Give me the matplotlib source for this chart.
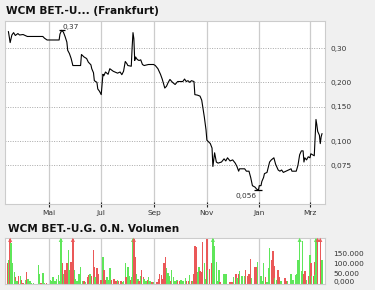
import numpy as np
import matplotlib
matplotlib.use("Agg")
from matplotlib import pyplot as plt

# days counted from 1 May
month_pos = [0, 61, 123, 184, 245, 304]
month_labels = ["Mai", "Jul", "Sep", "Nov", "Jan", "Mrz"]

price_days = [-47, -45, -43, -41, -39, -36, -34, -30, -25, -7, -5, -3, -2, 12, 13, 15, 17, 19, 21, 22,
              24, 26, 28, 37, 38, 41, 44, 46, 49, 50, 52, 53, 56, 57, 59, 61, 62, 63, 64, 66,
              69, 71, 75, 80, 83, 85, 87, 89, 91, 92, 96, 97, 98, 99, 100, 101, 103, 105, 107, 109,
              111, 116, 122, 124, 127, 130, 132, 135, 137, 139, 141, 144, 147, 150, 156, 158, 160, 162, 164, 166,
              169, 170, 173, 176, 178, 181, 183, 184, 188, 190, 191, 193, 195, 197, 201, 204, 206, 208, 211, 214,
              217, 219, 221, 222, 228, 230, 233, 235, 237, 240, 242, 244, 245, 247, 248, 250, 251, 254, 255, 257,
              259, 262, 264, 267, 269, 271, 273, 276, 279, 282, 283, 288, 290, 292, 294, 296, 297, 298, 300, 302,
              304, 305, 307, 309, 310, 311, 312, 313, 315, 316, 317, 318]
price = [0.364, 0.320, 0.350, 0.360, 0.348, 0.356, 0.350, 0.352, 0.344, 0.344, 0.337, 0.332, 0.330, 0.330, 0.354, 0.370, 0.362, 0.343, 0.322, 0.292,
         0.281, 0.265, 0.244, 0.244, 0.278, 0.270, 0.265, 0.254, 0.246, 0.235, 0.224, 0.204, 0.200, 0.185, 0.180, 0.173, 0.195, 0.220, 0.216, 0.226,
         0.220, 0.235, 0.228, 0.223, 0.226, 0.219, 0.228, 0.256, 0.249, 0.244, 0.242, 0.303, 0.360, 0.335, 0.259, 0.270, 0.262, 0.259, 0.261, 0.247,
         0.244, 0.247, 0.247, 0.244, 0.235, 0.220, 0.208, 0.187, 0.191, 0.200, 0.207, 0.200, 0.195, 0.202, 0.202, 0.208, 0.202, 0.204, 0.200, 0.204,
         0.202, 0.173, 0.172, 0.170, 0.162, 0.133, 0.114, 0.101, 0.097, 0.092, 0.074, 0.087, 0.078, 0.077, 0.078, 0.081, 0.079, 0.082, 0.079, 0.080,
         0.077, 0.074, 0.070, 0.072, 0.072, 0.070, 0.070, 0.065, 0.059, 0.058, 0.0566, 0.056, 0.059, 0.059, 0.062, 0.065, 0.068, 0.069, 0.072, 0.078,
         0.080, 0.082, 0.076, 0.071, 0.070, 0.071, 0.069, 0.070, 0.071, 0.072, 0.070, 0.070, 0.075, 0.085, 0.089, 0.089, 0.078, 0.082, 0.080, 0.083,
         0.082, 0.086, 0.085, 0.084, 0.103, 0.129, 0.121, 0.112, 0.107, 0.097, 0.105, 0.109]

price_ticks = [0.075, 0.1, 0.15, 0.2, 0.3]
price_tick_labels = ["0,075", "0,100", "0,150", "0,200", "0,30"]

# volume in thousands, direction 1 = up day, -1 = down day
vol_days = [-48, -47, -45, -44, -42, -40, -39, -38, -36, -35, -33, -32, -30, -27, -26, -24, -22, -20, -18, -12,
            -11, -9, -7, -5, -3, 2, 3, 5, 7, 9, 11, 13, 14, 16, 17, 19, 21, 23, 24, 25,
            26, 28, 30, 31, 33, 35, 37, 39, 41, 43, 45, 47, 48, 50, 52, 53, 54, 56, 58, 60,
            61, 63, 64, 66, 68, 69, 71, 73, 75, 76, 78, 80, 81, 84, 86, 87, 89, 90, 92, 94,
            95, 97, 98, 99, 101, 102, 104, 105, 107, 108, 110, 111, 113, 115, 116, 118, 120, 122, 126, 128,
            129, 131, 132, 134, 135, 136, 137, 139, 140, 142, 143, 145, 147, 149, 150, 152, 154, 155, 157, 159,
            160, 163, 164, 166, 167, 169, 170, 172, 173, 175, 176, 178, 179, 181, 183, 184, 185, 187, 190, 191,
            193, 195, 196, 198, 199, 200, 204, 206, 207, 211, 213, 215, 218, 219, 221, 222, 225, 228, 229, 231,
            233, 235, 236, 240, 242, 243, 247, 249, 250, 252, 254, 256, 257, 259, 260, 261, 262, 263, 265, 267,
            268, 270, 271, 275, 276, 278, 282, 284, 285, 287, 289, 290, 292, 294, 295, 297, 298, 300, 302, 304,
            305, 306, 308, 309, 310, 311, 313, 316, 318]
vol = [102, 116, 300, 201, 102, 59, 33, 16, 16, 37, 37, 20, 3, 20, 59, 25, 16, 4, 4, 93,
       50, 4, 54, 3, 3, 21, 16, 33, 16, 25, 42, 16, 300, 102, 50, 68, 102, 167, 68, 50,
       110, 300, 68, 25, 16, 50, 85, 16, 16, 8, 33, 42, 50, 37, 167, 81, 33, 76, 50, 20,
       20, 133, 68, 20, 33, 20, 76, 20, 20, 25, 16, 20, 16, 13, 11, 16, 102, 33, 85, 37,
       20, 33, 300, 300, 133, 50, 25, 16, 37, 68, 33, 25, 16, 20, 33, 13, 11, 8, 11, 25,
       50, 42, 25, 102, 25, 133, 76, 54, 37, 16, 68, 33, 16, 20, 13, 16, 20, 16, 16, 30,
       13, 16, 42, 16, 13, 50, 184, 179, 59, 85, 64, 59, 205, 102, 25, 222, 68, 71, 105, 300,
       187, 110, 16, 68, 8, 8, 50, 50, 20, 11, 11, 33, 50, 30, 50, 64, 37, 37, 68, 37,
       50, 124, 30, 85, 81, 110, 37, 13, 105, 33, 8, 76, 174, 25, 119, 162, 88, 30, 20, 68,
       33, 16, 16, 30, 16, 16, 50, 20, 20, 42, 50, 116, 300, 62, 208, 50, 64, 20, 37, 140,
       105, 37, 37, 107, 42, 300, 300, 300, 116]
vol_dir = [-1, 1, -1, 1, 1, 1, -1, 1, 1, -1, 1, -1, -1, 1, -1, 1, 1, 1, 1, 1,
           1, -1, 1, 1, -1, 1, 1, 1, 1, 1, 1, 1, 1, -1, 1, -1, -1, 1, 1, -1,
           -1, -1, 1, 1, 1, 1, 1, 1, -1, 1, -1, -1, 1, -1, -1, -1, 1, -1, -1, -1,
           -1, 1, -1, -1, 1, 1, 1, -1, 1, -1, -1, 1, -1, -1, 1, 1, 1, -1, 1, 1,
           -1, 1, 1, -1, -1, 1, 1, -1, 1, -1, -1, 1, 1, -1, 1, 1, -1, 1, -1, -1,
           -1, -1, -1, -1, -1, -1, 1, 1, 1, -1, 1, 1, 1, 1, -1, -1, 1, 1, 1, 1,
           -1, -1, 1, -1, 1, -1, -1, -1, 1, 1, -1, -1, -1, 1, 1, -1, 1, -1, -1, 1,
           1, 1, 1, 1, -1, -1, 1, 1, 1, -1, -1, 1, -1, 1, -1, 1, 1, 1, -1, -1,
           -1, -1, 1, -1, -1, 1, 1, 1, 1, -1, 1, 1, 1, -1, -1, -1, -1, 1, 1, -1,
           -1, 1, 1, -1, -1, 1, 1, 1, 1, 1, 1, 1, 1, 1, 1, -1, -1, 1, -1, 1,
           -1, 1, -1, -1, 1, 1, -1, -1, 1]
vol_ticks = [0, 50000, 100000, 150000]
vol_tick_labels = ["0,000", "50.000", "100.000", "150.000"]

BG = "#f0f0f0"
GRID = "#cccccc"
TXT = "#333333"
UP = "#5fe65a"
DOWN = "#ea5858"
W, H = 375, 290

fig = plt.figure(figsize=(W / 100, H / 100), dpi=100, facecolor=BG)
ax = fig.add_axes([5 / W, 1 - 204 / H, 320 / W, 183 / H])
axv = fig.add_axes([5 / W, 1 - 284 / H, 320 / W, 46 / H])

fig.text(6 / W, 1 - 11 / H, "WCM BET.-U... (Frankfurt)", fontsize=7.6, fontweight="bold",
         color="#111111", va="center")
fig.text(8 / W, 1 - 229 / H, "WCM BET.-U.G. 0.N. Volumen", fontsize=7.6, fontweight="bold",
         color="#111111", va="center")

xmin, xmax = -51, 321.5

# price panel
ax.plot(price_days, price, color="black", lw=0.8, zorder=3)
ax.set_yscale("log")
ax.set_ylim(0.0475, 0.413)
ax.set_xlim(xmin, xmax)
ax.yaxis.set_minor_locator(matplotlib.ticker.NullLocator())
ax.set_yticks(price_ticks, price_tick_labels)
ax.yaxis.tick_right()
ax.tick_params(axis="y", length=0, pad=4.3, labelsize=5.3, labelcolor=TXT)
ax.set_xticks(month_pos, month_labels)
ax.tick_params(axis="x", direction="inout", length=3.6, width=0.8, color="#222222",
               pad=2.5, labelsize=5.3, labelcolor=TXT)
ax.grid(axis="x", color=GRID, lw=0.9, ls="-")
ax.grid(axis="y", color="#a8a8a8", lw=0.7, ls=(0, (1, 1.5)))
ax.set_axisbelow(True)
for s in ax.spines.values():
    s.set_color(GRID)

def fmt(v):
    return ("%.3f" % v).rstrip("0").replace(".", ",")

i_max = int(np.argmax(price))
i_min = int(np.argmin(price))
ax.plot(price_days[i_max], price[i_max], marker="_", ms=5, mew=0.9, color="black", zorder=4)
ax.plot(price_days[i_min], price[i_min], marker="_", ms=5.5, mew=0.9, color="black", zorder=4)
ax.annotate(fmt(price[i_max]), (price_days[i_max], price[i_max]), xytext=(1, 0),
            textcoords="offset pixels", ha="left", va="bottom", fontsize=5.3, color=TXT)
ax.annotate(fmt(price[i_min]), (price_days[i_min], price[i_min]), xytext=(-2, -3),
            textcoords="offset pixels", ha="right", va="top", fontsize=5.3, color=TXT)

# volume panel
vtop = 225000
v = np.array(vol) * 1000
cols = [UP if d > 0 else DOWN for d in vol_dir]
axv.bar(vol_days, v, width=1.7, color=cols, linewidth=0, zorder=2)
clip = v > vtop
axv.scatter(np.array(vol_days)[clip], np.full(clip.sum(), vtop * 0.96), marker="^", s=9,
            c=np.array(cols)[clip], linewidths=0, zorder=3, clip_on=False)
axv.set_xlim(xmin, xmax)
axv.set_ylim(0, vtop)
axv.set_xticks(month_pos)
axv.set_xticklabels([])
axv.tick_params(axis="x", length=0)
axv.set_yticks(vol_ticks, vol_tick_labels)
axv.yaxis.tick_right()
axv.tick_params(axis="y", length=0, pad=5.8, labelsize=5.3, labelcolor=TXT)
axv.get_yticklabels()[0].set_va("baseline")
axv.grid(axis="x", color=GRID, lw=0.9, ls="-")
axv.set_yticks(vol_ticks[1:], minor=True)
axv.grid(axis="y", which="minor", color=GRID, lw=0.9, ls="-")
axv.tick_params(axis="y", which="minor", length=0)
axv.set_axisbelow(True)
for s in axv.spines.values():
    s.set_color(GRID)

fig.savefig("out.png", dpi=100, facecolor=BG)
